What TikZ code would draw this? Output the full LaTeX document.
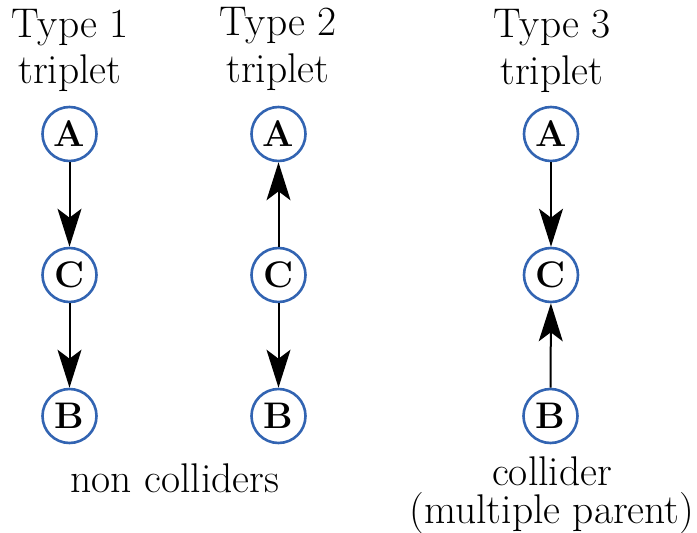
\documentclass[tikz,border=0pt]{standalone}
\usetikzlibrary{arrows.meta}
\definecolor{nodeblue}{RGB}{50,100,178}
\begin{document}
\begin{tikzpicture}[x=1pt,y=-1pt,
  var/.style={circle,draw=nodeblue,line width=2.6pt,minimum size=54pt,inner sep=0pt,
    font=\fontsize{37}{40}\selectfont\bfseries},
  lbl/.style={anchor=base,inner sep=0pt,font=\fontsize{41.5}{45}\selectfont},
  edge/.style={line width=2pt,-{Stealth[length=38pt,width=24pt,inset=9pt]}}]
\useasboundingbox (0,0) rectangle (697,533);
% column headings
\node[lbl] (h1a) at (70,37) {Type 1};
\node[lbl] (h1b) at (70,83) {triplet};
\node[lbl] (h2a) at (278,35) {Type 2};
\node[lbl] (h2b) at (278,82) {triplet};
\node[lbl] (h3a) at (552,37) {Type 3};
\node[lbl] (h3b) at (552,84) {triplet};
% chain A -> C -> B
\node[var] (a1) at (69.5,134) {A};
\node[var] (c1) at (69.5,275) {C};
\node[var] (b1) at (69.5,416) {B};
% fork A <- C -> B
\node[var] (a2) at (278.5,134) {A};
\node[var] (c2) at (278.5,275) {C};
\node[var] (b2) at (278.5,416) {B};
% collider A -> C <- B
\node[var] (a3) at (551,134) {A};
\node[var] (c3) at (551,275) {C};
\node[var] (b3) at (550.5,416) {B};
\draw[edge] (a1) -- (c1);
\draw[edge] (c1) -- (b1);
\draw[edge] (c2) -- (a2);
\draw[edge] (c2) -- (b2);
\draw[edge] (a3) -- (c3);
\draw[edge] (b3) -- (c3);
% captions
\node[lbl] (nc) at (175,492) {non colliders};
\node[lbl] (col) at (552,485) {collider};
\node[lbl] (mp) at (552,523) {(multiple parent)};
\end{tikzpicture}
\end{document}
